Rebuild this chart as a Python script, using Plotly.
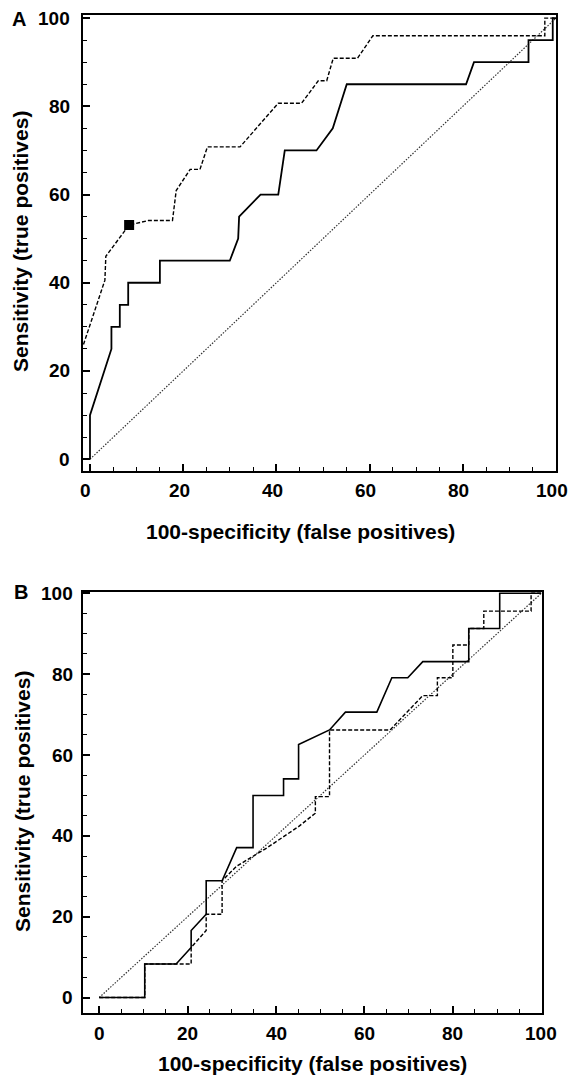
import plotly.graph_objects as go

# ---------------- Panel A data ----------------
a_solid_x = [0, 0, 4.6, 4.6, 6.4, 6.4, 8.2, 8.2, 15, 15, 30, 31.8, 32, 36.6, 40.4, 41.8,
             48.6, 52.1, 53.6, 55.1, 80.7, 82.4, 94.1, 94.1, 99.3, 99.3, 100]
a_solid_y = [0, 10, 25, 30, 30, 35, 35, 40, 40, 45, 45, 50, 55, 60, 60, 70,
             70, 75, 80, 85, 85, 90, 90, 95, 95, 100, 100]

a_dash_x = [-1.4, 3.2, 3.4, 8.4, 12.5, 17.7, 18.5, 20, 21.5, 23.6, 25.2, 32.2, 40.4, 45.4,
            49, 50.8, 52.2, 57.4, 60.7, 97.6, 97.6, 100]
a_dash_y = [26, 40.6, 46, 53.1, 54.1, 54.1, 60.9, 63.3, 65.7, 65.7, 70.8, 70.8, 80.7, 80.7,
            85.8, 85.8, 90.9, 90.9, 96, 96, 100, 100]

a_marker_x = [8.4]
a_marker_y = [53.1]

# ---------------- Panel B data ----------------
b_solid_x = [0, 10.3, 10.3, 17.4, 20.8, 20.8, 24.2, 24.2, 27.8, 31.1, 34.8, 34.8, 41.7, 41.7,
             45.1, 45.1, 52.1, 55.7, 62.8, 66.2, 69.8, 73.2, 83.6, 83.6, 90.6, 90.6, 100]
b_solid_y = [0, 0, 8.3, 8.3, 12.4, 16.6, 20.6, 28.9, 28.9, 37.1, 37.1, 50, 50, 54.1,
             54.1, 62.6, 66.2, 70.6, 70.6, 79.1, 79.1, 83.1, 83.1, 91.3, 91.3, 100, 100]

b_dash_x = [0, 10.3, 10.3, 17.4, 20.8, 20.8, 24.2, 24.2, 27.8, 27.8, 31.1, 37.9, 45.1, 48.9,
            48.9, 52.1, 52.1, 65.8, 73.2, 76.5, 76.5, 80, 80, 83.6, 83.6, 87, 87, 97.7, 97.7, 100]
b_dash_y = [0, 0, 8.3, 8.3, 8.3, 12.4, 16.6, 20.6, 20.6, 28.9, 32.5, 37, 42.3, 45.6,
            49.7, 49.7, 66.2, 66.2, 74.7, 74.7, 79.1, 79.1, 87.2, 87.2, 91.3, 91.3, 95.6, 95.6, 100, 100]

diag = [0, 100]
tick_vals = [0, 20, 40, 60, 80, 100]
tick_text = ["0", "20", "40", "60", "80", "100"]

x_title = "100-specificity (false positives)"
y_title = "Sensitivity (true positives)"

FONT = "Liberation Sans, Arial, sans-serif"
W, H = 574, 1076

fig = go.Figure()

DIAG_LINE = dict(color="#333333", width=1.2, dash="1.5px,1.5px")

# Panel A
fig.add_trace(go.Scatter(x=diag, y=diag, mode="lines", xaxis="x", yaxis="y",
                         line=DIAG_LINE, showlegend=False))
fig.add_trace(go.Scatter(x=a_solid_x, y=a_solid_y, mode="lines", xaxis="x", yaxis="y",
                         line=dict(color="black", width=1.8), showlegend=False))
fig.add_trace(go.Scatter(x=a_dash_x, y=a_dash_y, mode="lines", xaxis="x", yaxis="y",
                         line=dict(color="black", width=1.4, dash="4px,2px"), showlegend=False))
fig.add_trace(go.Scatter(x=a_marker_x, y=a_marker_y, mode="markers", xaxis="x", yaxis="y",
                         marker=dict(symbol="square", size=10, color="black"), showlegend=False))

# Panel B
fig.add_trace(go.Scatter(x=diag, y=diag, mode="lines", xaxis="x2", yaxis="y2",
                         line=DIAG_LINE, showlegend=False))
fig.add_trace(go.Scatter(x=b_solid_x, y=b_solid_y, mode="lines", xaxis="x2", yaxis="y2",
                         line=dict(color="black", width=1.6), showlegend=False))
fig.add_trace(go.Scatter(x=b_dash_x, y=b_dash_y, mode="lines", xaxis="x2", yaxis="y2",
                         line=dict(color="black", width=1.4, dash="4px,2px"), showlegend=False))

def axis_common(lw):
    return dict(
        tickmode="array", tickvals=tick_vals, ticktext=tick_text,
        ticks="inside", ticklen=7, tickwidth=1.5, tickcolor="black",
        minor=dict(dtick=5, tick0=0, ticks="inside", ticklen=4, tickwidth=1.2, tickcolor="black"),
        showline=True, linecolor="black", linewidth=lw, mirror=True,
        showgrid=False, zeroline=False, showticklabels=False,
    )

XA_DOM = [83 / W, 556 / W]
YA_DOM = [(H - 470.7) / H, (H - 15) / H]
XB_DOM = [83.3 / W, 541.7 / W]
YB_DOM = [(H - 1012.5) / H, (H - 591.7) / H]

fig.update_layout(
    width=W, height=H,
    margin=dict(l=0, r=0, t=0, b=0),
    paper_bgcolor="white", plot_bgcolor="white",
    font=dict(family=FONT, color="black"),
    xaxis=dict(domain=XA_DOM, range=[-1.5, 100], anchor="y", **axis_common(2)),
    yaxis=dict(domain=YA_DOM, range=[-2.6, 100.7], anchor="x", **axis_common(2)),
    xaxis2=dict(domain=XB_DOM, range=[-3.6, 100.1], anchor="y2", **axis_common(1.6)),
    yaxis2=dict(domain=YB_DOM, range=[-3.7, 100.4], anchor="x2", **axis_common(1.6)),
)

# tick labels, placed on the axes' own scales
lfont = dict(family=FONT, size=19, color="black", weight="bold")
for v, t in zip(tick_vals, tick_text):
    # panel A
    fig.add_annotation(text=t, x=v, xref="x", y=1 - 490 / H, yref="paper",
                       xshift=-4, showarrow=False, xanchor="center", yanchor="middle", font=lfont)
    fig.add_annotation(text=t, x=72 / W, xref="paper", y=v, yref="y",
                       showarrow=False, xanchor="right", yanchor="middle", font=lfont)
    # panel B
    fig.add_annotation(text=t, x=v, xref="x2", y=1 - 1033 / H, yref="paper",
                       showarrow=False, xanchor="center", yanchor="middle", font=lfont)
    fig.add_annotation(text=t, x=75 / W, xref="paper", y=v, yref="y2",
                       showarrow=False, xanchor="right", yanchor="middle", font=lfont)

tfont = dict(family=FONT, size=21, color="black", weight="bold")
annots = [
    dict(text=x_title, x=300 / W, y=1 - 532 / H),
    dict(text=y_title, x=20 / W, y=1 - 242 / H, textangle=-90),
    dict(text=x_title, x=312 / W, y=1 - 1063 / H),
    dict(text=y_title, x=22 / W, y=1 - 802 / H, textangle=-90),
]
for a in annots:
    fig.add_annotation(xref="paper", yref="paper", showarrow=False, font=tfont,
                       xanchor="center", yanchor="middle", **a)

fig.add_annotation(text="A", xref="paper", yref="paper", x=19 / W, y=1 - 19 / H,
                   showarrow=False, xanchor="center", yanchor="middle",
                   font=dict(family=FONT, size=20, color="black", weight="bold"))
fig.add_annotation(text="B", xref="paper", yref="paper", x=20.5 / W, y=1 - 592 / H,
                   showarrow=False, xanchor="center", yanchor="middle",
                   font=dict(family=FONT, size=20, color="black", weight="bold"))

fig.write_html(
    "out.html",
    config={"displayModeBar": False},
    post_script="document.body.style.margin='0';document.body.style.overflow='hidden';",
)
